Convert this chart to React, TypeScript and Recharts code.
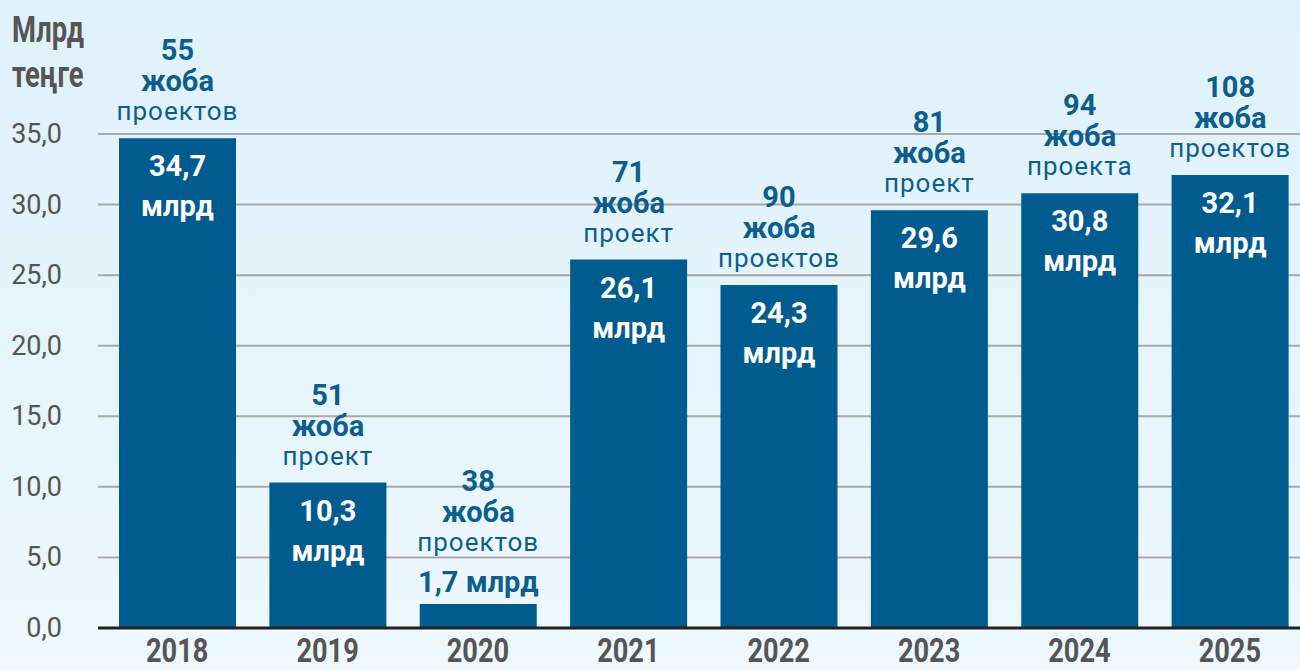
import React from "react";
import { BarChart, Bar, XAxis, YAxis, CartesianGrid, LabelList } from "recharts";

const years = ["2018", "2019", "2020", "2021", "2022", "2023", "2024", "2025"];
const amounts = [34.7, 10.3, 1.7, 26.1, 24.3, 29.6, 30.8, 32.1];
const projectCounts = [55, 51, 38, 71, 90, 81, 94, 108];
const projectWords = ["проектов", "проект", "проектов", "проект", "проектов", "проект", "проекта", "проектов"];
const yTicks = [0, 5, 10, 15, 20, 25, 30, 35];

const data = years.map((year, i) => ({ year, value: amounts[i] }));

const BLUE = "#005b8f";
const TEXT_BLUE = "#0d5e8d";
const GRAY = "#555555";
const FONT = "Roboto, 'Noto Sans', sans-serif";

const fmt = (v: number, digits = 1) => v.toFixed(digits).replace(".", ",");

const YTick = ({ x, y, payload }: any) => (
  <text x={x} y={y} textAnchor="end" dominantBaseline="central" fill={GRAY} fontSize={27} fontFamily={FONT}>
    {fmt(payload.value)}
  </text>
);

// years sit just under the baseline, squeezed a bit like the condensed original
const XTick = ({ x, y, payload }: any) => (
  <text
    transform={`translate(${x},${y + 26}) scale(0.8,1)`}
    textAnchor="middle"
    fill={GRAY}
    fontSize={34}
    fontWeight={700}
    fontFamily={FONT}
  >
    {payload.value}
  </text>
);

const BarLabel = (props: any) => {
  const { x, y, width, height, index, value } = props;
  const cx = x + width / 2;
  const inside = height > 60;
  const shift = inside ? 0 : 35;
  return (
    <g fontFamily={FONT} textAnchor="middle">
      <text x={cx} y={y - 88 - shift} dominantBaseline="central" fill={TEXT_BLUE} fontSize={29} fontWeight={700}>
        {projectCounts[index]}
      </text>
      <text x={cx} y={y - 57 - shift} dominantBaseline="central" fill={TEXT_BLUE} fontSize={29} fontWeight={700}>
        жоба
      </text>
      <text x={cx} y={y - 27 - shift} dominantBaseline="central" fill={TEXT_BLUE} fontSize={26} letterSpacing={1}>
        {projectWords[index]}
      </text>
      {inside ? (
        <>
          <text x={cx} y={y + 28} dominantBaseline="central" fill="#ffffff" fontSize={29} fontWeight={700}>
            {fmt(value)}
          </text>
          <text x={cx} y={y + 68} dominantBaseline="central" fill="#ffffff" fontSize={29} fontWeight={700}>
            млрд
          </text>
        </>
      ) : (
        <text x={cx} y={y - 22} dominantBaseline="central" fill={TEXT_BLUE} fontSize={29} fontWeight={700}>
          {fmt(value)} млрд
        </text>
      )}
    </g>
  );
};

export default function App() {
  return (
    <div
      style={{
        position: "absolute",
        left: 0,
        top: 0,
        width: 1300,
        height: 670,
        overflow: "hidden",
        background: "linear-gradient(180deg, #dff1fa 0%, #e6f5fc 55%, #eef8fd 100%)",
      }}
    >
      <div
        style={{
          position: "absolute",
          left: 12,
          top: 8,
          color: GRAY,
          fontFamily: FONT,
          fontWeight: 700,
          fontSize: 36,
          lineHeight: "45px",
          transform: "scaleX(0.76)",
          transformOrigin: "left top",
        }}
      >
        Млрд
        <br />
        теңге
      </div>
      <BarChart
        width={1300}
        height={670}
        data={data}
        margin={{ top: 134, right: -5, left: 0, bottom: 0 }}
        style={{ position: "absolute", left: 0, top: 0 }}
      >
        <CartesianGrid horizontal vertical={false} stroke="#a9a9a9" strokeWidth={2} />
        <XAxis
          dataKey="year"
          axisLine={{ stroke: "#222222", strokeWidth: 3 }}
          tickLine={false}
          tick={<XTick />}
          interval={0}
          height={42}
          padding={{ left: 4, right: 0 }}
        />
        <YAxis
          domain={[0, 35]}
          ticks={yTicks}
          axisLine={false}
          tickLine={false}
          tickSize={0}
          tickMargin={36}
          width={98}
          tick={<YTick />}
        />
        <Bar dataKey="value" fill={BLUE} barSize={117} isAnimationActive={false}>
          <LabelList dataKey="value" content={<BarLabel />} />
        </Bar>
      </BarChart>
    </div>
  );
}
